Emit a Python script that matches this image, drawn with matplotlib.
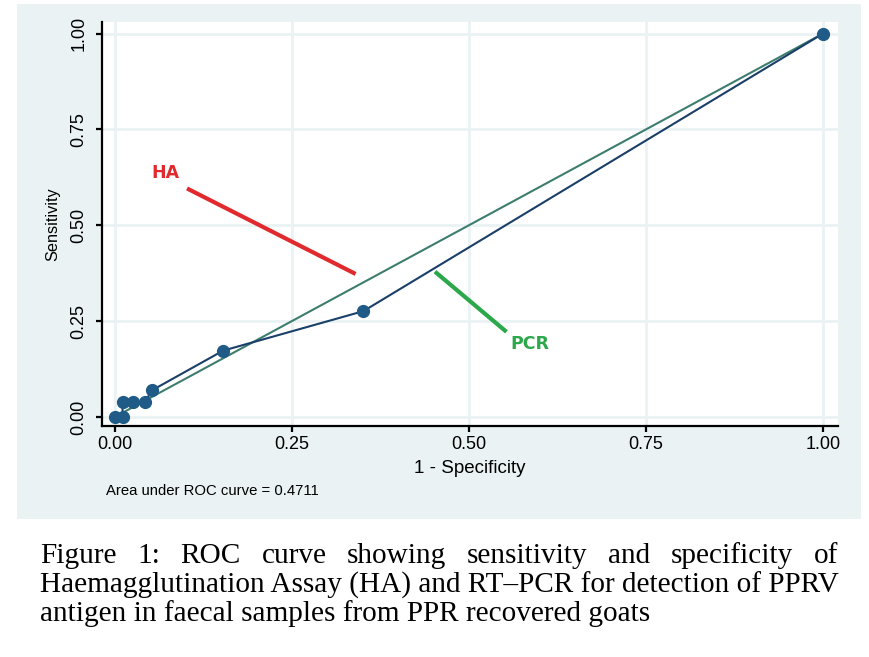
import matplotlib
matplotlib.use('Agg')
import matplotlib.pyplot as plt
from matplotlib.patches import Rectangle

# ROC points (1 - specificity, sensitivity)
fpr = [0.0, 0.011, 0.011, 0.026, 0.042, 0.053, 0.153, 0.351, 1.0]
tpr = [0.0, 0.0, 0.038, 0.038, 0.038, 0.070, 0.173, 0.276, 1.0]
ref_line = [0.0, 1.0]
ticks = [0.0, 0.25, 0.5, 0.75, 1.0]
tick_labels = ['0.00', '0.25', '0.50', '0.75', '1.00']
auc_text = 'Area under ROC curve = 0.4711'

# hand-drawn pointers added on top of the chart
ha_label = 'HA'
ha_pointer_x = [0.102, 0.340]
ha_pointer_y = [0.596, 0.373]
pcr_label = 'PCR'
pcr_pointer_x = [0.452, 0.553]
pcr_pointer_y = [0.379, 0.222]

caption_lines = [
    'Figure 1: ROC curve showing sensitivity and specificity of',
    'Haemagglutination Assay (HA) and RT\u2013PCR for detection of PPRV',
    'antigen in faecal samples from PPR recovered goats',
]

W, H = 870, 657
plt.rcParams['font.family'] = ['Liberation Sans', 'DejaVu Sans']

fig = plt.figure(figsize=(W / 100, H / 100), dpi=100)
fig.patch.set_facecolor('white')

# light graph region behind the plot
fig.add_artist(Rectangle((17 / W, 1 - 519 / H), 844 / W, 515 / H,
                         transform=fig.transFigure, facecolor='#eaf2f3',
                         edgecolor='none', zorder=0))

ax = fig.add_axes([102 / W, 1 - 426 / H, 736 / W, 404 / H])
ax.set_facecolor('white')
ax.set_xlim(-0.018, 1.021)
ax.set_ylim(-0.0235, 1.030)

for t in ticks:
    ax.axvline(t, color='#eaf2f3', lw=2, zorder=1)
    ax.axhline(t, color='#eaf2f3', lw=2, zorder=1)

ax.plot(ref_line, ref_line, color='#3d7d6e', lw=1.5, zorder=3)
ax.plot(fpr, tpr, color='#1a3f68', lw=1.5, marker='o', markersize=8.5,
        markerfacecolor='#205a86', markeredgecolor='#205a86', zorder=4)

ax.plot(ha_pointer_x, ha_pointer_y, color='#e02a2e', lw=3, solid_capstyle='butt', zorder=5)
ax.plot(pcr_pointer_x, pcr_pointer_y, color='#2ba84a', lw=3, solid_capstyle='butt', zorder=5)
ax.text(0.071, 0.636, ha_label, color='#e02a2e', fontsize=12.5, fontweight='bold',
        family='DejaVu Sans', ha='center', va='center', zorder=6)
ax.text(0.586, 0.190, pcr_label, color='#2ba84a', fontsize=12.5, fontweight='bold',
        family='DejaVu Sans', ha='center', va='center', zorder=6)

for side in ['top', 'right']:
    ax.spines[side].set_visible(False)
for side in ['left', 'bottom']:
    ax.spines[side].set_linewidth(1.6)
    ax.spines[side].set_color('black')

ax.set_xticks(ticks)
ax.set_xticklabels(tick_labels)
ax.set_yticks(ticks)
ax.set_yticklabels(tick_labels)
ax.tick_params(axis='both', length=4.5, width=1.6, labelsize=13, colors='black')
ax.tick_params(axis='x', pad=3)
ax.tick_params(axis='y', pad=6)
for lab in ax.get_yticklabels():
    lab.set_rotation(90)
    lab.set_va('center')

ax.set_xlabel('1 - Specificity', fontsize=13.5, labelpad=5)
ax.set_ylabel('Sensitivity', fontsize=11.7, labelpad=7)

fig.text(106 / W, 1 - 491 / H, auc_text, fontsize=10.7, va='center', ha='left')

# caption, justified between the two margins
renderer = fig.canvas.get_renderer()
left_px, right_px = 40, 838
span = right_px - left_px
baselines = [563, 593, 621]

t2 = fig.text(left_px / W, 1 - baselines[1] / H, caption_lines[1], fontsize=20,
              family='Liberation Serif', va='baseline', ha='left')
size = 20 * span / t2.get_window_extent(renderer).width
t2.set_fontsize(size)

words = caption_lines[0].split(' ')
word_texts = [fig.text(0, 1 - baselines[0] / H, w, fontsize=size,
                       family='Liberation Serif', va='baseline', ha='left')
              for w in words]
widths = [t.get_window_extent(renderer).width for t in word_texts]
gap = (span - sum(widths)) / (len(words) - 1)
x = left_px
for t, w in zip(word_texts, widths):
    t.set_x(x / W)
    x += w + gap

fig.text(left_px / W, 1 - baselines[2] / H, caption_lines[2], fontsize=size,
         family='Liberation Serif', va='baseline', ha='left')

fig.savefig('out.png', dpi=100)
